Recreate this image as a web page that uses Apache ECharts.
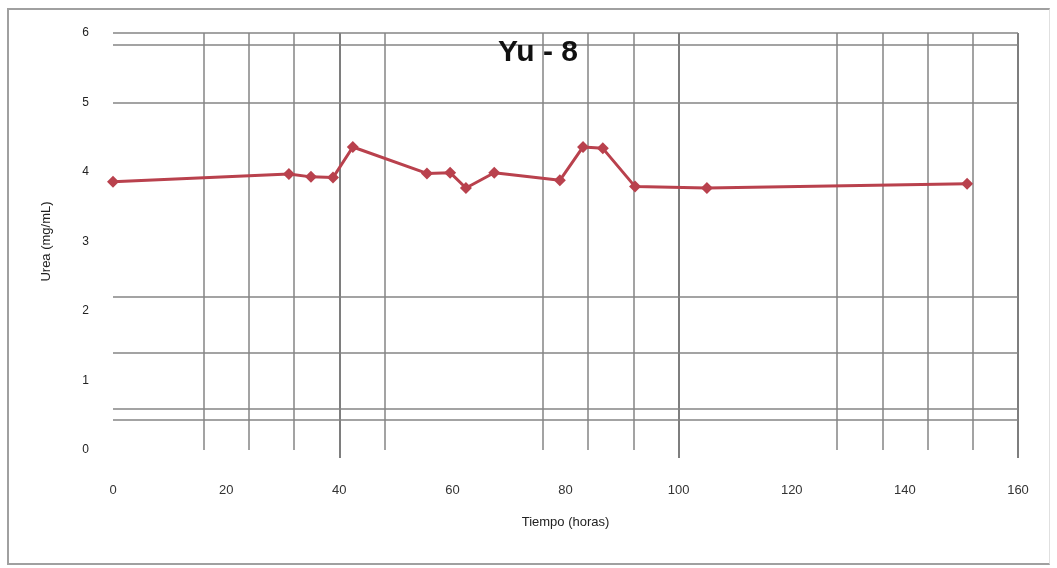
<!DOCTYPE html>
<html>
<head>
<meta charset="utf-8">
<script src="https://cdn.jsdelivr.net/npm/echarts@6/dist/echarts.min.js"></script>
<style>
html,body{margin:0;padding:0;background:#fff;}
#frame{position:absolute;left:7px;top:8px;width:1043px;height:557px;border:2px solid #a0a0a0;border-right:1px solid #e0e0e0;box-sizing:border-box;}
#chart{position:absolute;left:0;top:0;width:1057px;height:568px;}
</style>
</head>
<body>
<div id="frame"></div>
<div id="chart"></div>
<script>
// Data
const hours = [0, 31.1, 35.0, 38.9, 42.4, 55.5, 59.6, 62.4, 67.4, 79.0, 83.1, 86.6, 92.3, 105.0, 151.0];
const urea  = [3.86, 3.97, 3.93, 3.92, 4.36, 3.98, 3.99, 3.77, 3.99, 3.88, 4.36, 4.34, 3.79, 3.77, 3.83];
const xTicks = [0, 20, 40, 60, 80, 100, 120, 140, 160];
const yTicks = [0, 1, 2, 3, 4, 5, 6];
// gridline positions as they appear in the picture (data units)
const vGrid = [16, 24, 32, 40, 48, 76, 84, 92, 100, 128, 136, 144, 152, 160];
const vGridDark = [40, 100, 160];
const hGrid = [6, 5.83, 5, 2.2, 1.4, 0.6, 0.43];

const chart = echarts.init(document.getElementById('chart'), null, {renderer: 'canvas'});
const gridColor = '#858585';
const markData = [];
vGrid.forEach(v => markData.push({xAxis: v, lineStyle: {color: vGridDark.includes(v) ? '#707070' : gridColor, width: vGridDark.includes(v) ? 1.8 : 1.5, type: 'solid'}}));
hGrid.forEach(v => markData.push({yAxis: v, lineStyle: {color: gridColor, width: 1.5, type: 'solid'}}));

chart.setOption({
  animation: false,
  title: {
    text: 'Yu - 8', left: 533, top: 33, textAlign: 'center',
    textStyle: {fontFamily: 'Liberation Sans', fontWeight: 'bold', fontSize: 30, color: '#111'}
  },
  grid: {left: 113, right: 39, top: 33, bottom: 118},
  xAxis: {
    type: 'value', min: 0, max: 160, interval: 20,
    name: 'Tiempo (horas)', nameLocation: 'middle', nameGap: 66,
    nameTextStyle: {fontFamily: 'Liberation Sans', fontSize: 13, color: '#222'},
    axisLine: {show: false},
    axisTick: {show: true, customValues: vGridDark, length: 8, lineStyle: {color: '#707070', width: 1.8}},
    splitLine: {show: false},
    axisLabel: {customValues: xTicks, margin: 34, fontFamily: 'Liberation Sans', fontSize: 13, color: '#333'}
  },
  yAxis: {
    type: 'value', min: 0, max: 6, interval: 1,
    name: 'Urea (mg/mL)', nameLocation: 'middle', nameGap: 60, nameRotate: 90,
    nameTextStyle: {fontFamily: 'Liberation Sans', fontSize: 13, color: '#222'},
    axisLine: {show: false}, axisTick: {show: false}, splitLine: {show: false},
    axisLabel: {margin: 24, fontFamily: 'Liberation Sans', fontSize: 12, color: '#222'}
  },
  series: [{
    type: 'line',
    data: hours.map((h, i) => [h, urea[i]]),
    symbol: 'diamond', symbolSize: 12,
    lineStyle: {color: '#b9414d', width: 3},
    itemStyle: {color: '#b9414d'},
    z: 5,
    markLine: {
      silent: true, symbol: ['none', 'none'], label: {show: false},
      animation: false, data: markData, z: 1
    }
  }]
});
</script>
</body>
</html>
